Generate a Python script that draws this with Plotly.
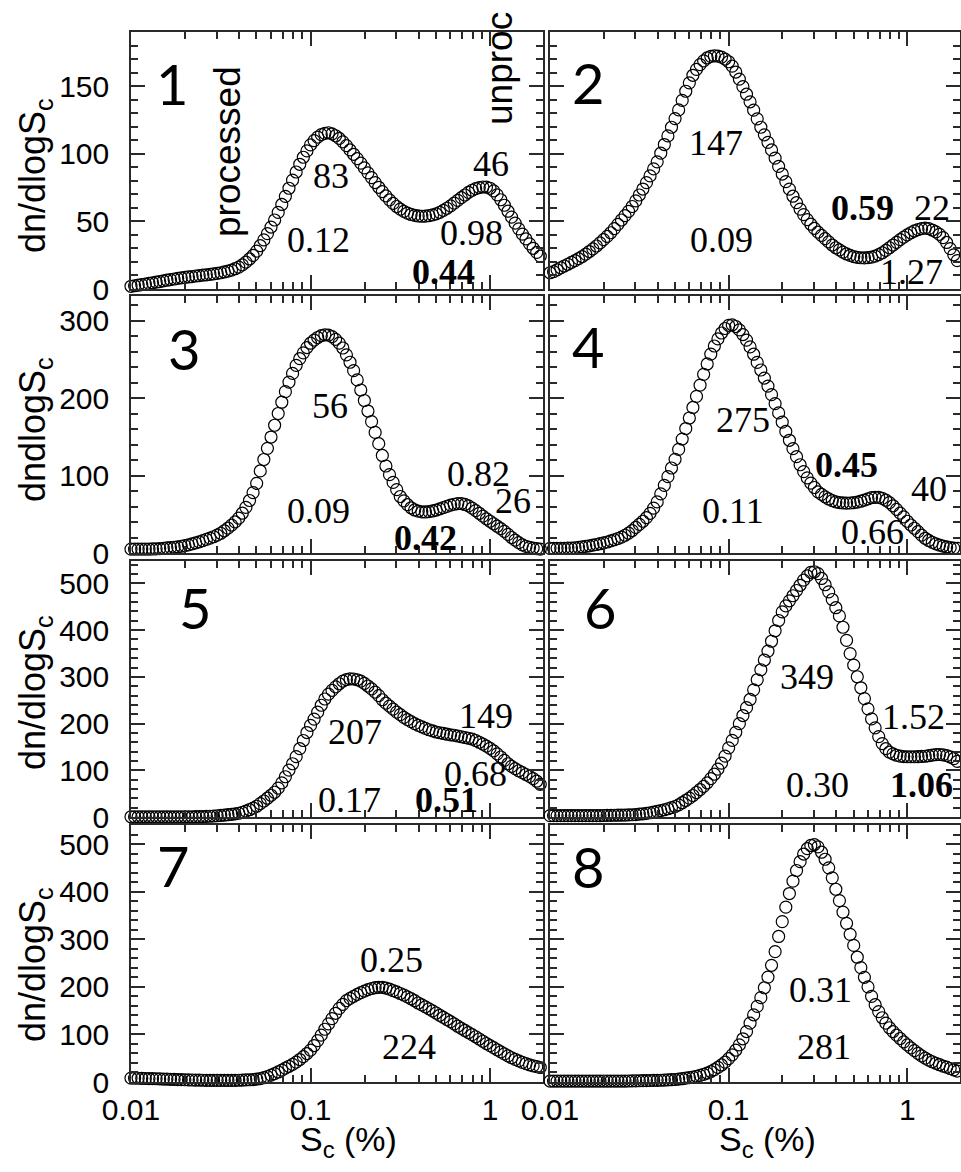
import plotly.graph_objects as go

# ---------------- data ----------------
S_c = [0.01, 0.01047, 0.01096, 0.01148, 0.01202, 0.01259, 0.01318, 0.0138, 0.01445, 0.01514,
       0.01585, 0.0166, 0.01738, 0.0182, 0.01905, 0.01995, 0.02089, 0.02188, 0.02291, 0.02399,
       0.02512, 0.0263, 0.02754, 0.02884, 0.0302, 0.03162, 0.03311, 0.03467, 0.03631, 0.03802,
       0.03981, 0.04169, 0.04365, 0.04571, 0.04786, 0.05012, 0.05248, 0.05495, 0.05754, 0.06026,
       0.0631, 0.06607, 0.06918, 0.07244, 0.07586, 0.07943, 0.08318, 0.0871, 0.0912, 0.0955,
       0.1, 0.1047, 0.1096, 0.1148, 0.1202, 0.1259, 0.1318, 0.138, 0.1445, 0.1514,
       0.1585, 0.166, 0.1738, 0.182, 0.1905, 0.1995, 0.2089, 0.2188, 0.2291, 0.2399,
       0.2512, 0.263, 0.2754, 0.2884, 0.302, 0.3162, 0.3311, 0.3467, 0.3631, 0.3802,
       0.3981, 0.4169, 0.4365, 0.4571, 0.4786, 0.5012, 0.5248, 0.5495, 0.5754, 0.6026,
       0.631, 0.6607, 0.6918, 0.7244, 0.7586, 0.7943, 0.8318, 0.871, 0.912, 0.955,
       1.0, 1.047, 1.096, 1.148, 1.202, 1.259, 1.318, 1.38, 1.445, 1.514,
       1.585, 1.66, 1.738, 1.82, 1.905]

panel1 = [2, 2.4, 2.8, 3.2, 3.6, 4.1, 4.6, 5.1, 5.5, 6.0,
          6.5, 6.9, 7.4, 7.8, 8.2, 8.6, 8.9, 9.2, 9.6, 9.9,
          10.2, 10.5, 10.8, 11.2, 11.5, 12, 12.6, 13.2, 14.0, 15.0,
          16.2, 17.8, 19.9, 22.2, 24.8, 28, 32, 36.3, 40.9, 45.8,
          51, 56.6, 62.5, 68.5, 74.5, 80.5, 86.5, 92.2, 97.4, 102.1,
          106.5, 109.7, 112.3, 114.1, 115.1, 115.5, 114.7, 113.3, 111.3, 108.8,
          106, 102.8, 99.6, 96.4, 93.1, 89.5, 85.9, 82.3, 78.7, 75.2,
          72, 68.8, 65.9, 63.3, 61.0, 59, 57.4, 56.1, 55.1, 54.4,
          54, 53.8, 53.9, 54.2, 54.8, 55.5, 56.7, 58.1, 59.7, 61.5,
          63.5, 65.5, 67.5, 69.5, 71.4, 73, 74.2, 75.0, 75.4, 75.3,
          74.5, 72.5, 69.6, 66, 61.9, 57.5, 53.1, 48.7, 44.5, 40.6,
          37, 33.4, 30.1, 27.1, 24.3]

panel2 = [12, 12.8, 14.2, 15.7, 17.0, 18.3, 19.7, 21.0, 22.4, 24.0,
          25.8, 27.7, 29.7, 31.8, 34.1, 36.5, 38.9, 41.6, 44.6, 47.8,
          51, 54.2, 57.4, 61, 65.1, 69.5, 73.9, 78.6, 83.6, 88.8,
          94, 100.4, 106.8, 113.2, 119.6, 126, 132.4, 139.4, 146.2, 152.4,
          158, 162.4, 165.9, 168.7, 170.8, 172, 172.4, 172.2, 171.4, 170,
          168, 164.8, 160.4, 155.2, 149.6, 144, 138.4, 132.2, 125.8, 119.6,
          114, 108.4, 102.8, 96.8, 90.6, 85, 79.4, 73.8, 68.6, 63.8,
          59, 55, 51.3, 47.9, 44.8, 42, 39.6, 37.2, 34.8, 32.5,
          30.5, 28.9, 27.3, 25.9, 24.8, 24, 23.4, 23.1, 23.0, 23.2,
          23.6, 24.3, 25.4, 26.8, 28.5, 30.5, 32.5, 34.5, 36.5, 38.4,
          40, 41.6, 42.9, 43.9, 44.6, 45, 44.6, 43.6, 42.2, 40.4,
          38, 34.4, 29.9, 25.3, 21]

panel3 = [5, 5, 5, 5, 5, 5, 5.2, 5.4, 5.7, 6.1,
          6.5, 6.9, 7.4, 8.0, 8.7, 9.5, 10.5, 11.7, 13.0, 14.4,
          16, 17.6, 19.2, 21.0, 23.1, 25.5, 28.7, 32.2, 36.0, 40.2,
          45, 51.4, 59, 67.8, 78, 90, 106, 120.8, 135.2, 149.8,
          165, 180.2, 194.8, 208.4, 220.8, 232, 242.4, 251, 258.6, 265.4,
          271, 275, 278.4, 280.8, 281.9, 281.5, 279.5, 276, 271.2, 264.8,
          256, 246.4, 235.6, 223.6, 210.6, 197, 183.4, 169.8, 155.8, 141.2,
          126, 112.4, 101.2, 91.2, 81.8, 73, 67.4, 62.4, 58.4, 55.6,
          54, 53.2, 53, 53.4, 54.3, 55.5, 57.1, 58.7, 60.3, 61.8,
          63, 63.8, 63.8, 62.7, 60.8, 58, 54.8, 51.3, 47.7, 44.2,
          41, 37.8, 34.6, 31.4, 28, 24, 20, 16.6, 13.4, 10.5,
          8.5, 7.3, 6.4, 5.6, 5]

panel4 = [6, 6, 6, 6, 6, 6.2, 6.4, 6.8, 7.3, 7.9,
          8.5, 9.3, 10.1, 11.0, 12.0, 13, 14.2, 15.6, 17.1, 18.7,
          20.5, 22.9, 25.6, 29, 33, 37, 41, 45.6, 51.2, 58,
          66, 76.4, 87.4, 98.6, 109.8, 121, 133.8, 147.2, 160.8, 174.4,
          188, 202.4, 216.8, 230.8, 244.2, 257, 267.4, 276.6, 284.2, 290,
          294, 294.8, 292.6, 288.2, 282.2, 275, 266.2, 256.8, 246.2, 236.4,
          226, 215.6, 204.6, 193, 181, 169, 157, 145.6, 134.8, 124.4,
          114, 105.2, 97, 90.2, 84.6, 79, 75.8, 72.6, 69.8, 67.6,
          66, 65.2, 64.7, 64.5, 64.6, 65, 65.8, 66.9, 68.3, 69.9,
          71.5, 71.9, 71.8, 70.5, 68.2, 65, 61, 56.4, 51.6, 46.6,
          41, 36.2, 32, 27.6, 23, 19, 16.2, 13.7, 11.7, 10.2,
          9, 7.8, 6.9, 6.3, 6]

panel5 = [0.5, 0.5, 0.5, 0.5, 0.5, 0.5, 0.5, 0.5, 0.5, 0.5,
          0.5, 0.5, 0.5, 0.5, 0.5, 0.5, 0.5, 0.5, 0.6, 0.8,
          1, 1.2, 1.6, 2.1, 2.7, 3.3, 4.1, 4.9, 5.8, 6.8,
          8, 10, 12.6, 15.6, 19, 23, 28.6, 34.2, 40.2, 46.6,
          53, 61.8, 73, 86.2, 100.4, 114, 129.2, 146.2, 163.8, 180.8,
          196, 209.6, 224.4, 239.2, 252.6, 263, 271, 278.4, 285.2, 290.8,
          294, 295.6, 295.4, 293.8, 290.8, 286, 280.4, 274.2, 267.4, 259.8,
          251, 243.8, 237.2, 230.8, 224.6, 219, 213.4, 208.4, 204, 200,
          196, 192.8, 189.6, 186.8, 184.4, 182, 180.4, 178.8, 177.2, 175.8,
          175, 173.4, 171.8, 170.2, 168.6, 167, 163.8, 160, 156, 151.8,
          147, 141.4, 135.2, 128.4, 121.2, 114, 108.4, 103.4, 99, 95,
          91, 87, 82.2, 76.6, 70]

panel6 = [3, 3, 3, 3, 3, 3, 3, 3, 3, 3,
          3, 3, 3, 3, 3, 3.2, 3.4, 3.5, 3.7, 3.8,
          4, 4.2, 4.5, 4.8, 5.2, 6, 6.8, 7.9, 9.1, 10.4,
          12, 13.6, 15.5, 17.7, 20.1, 22.5, 26.1, 30.6, 35.4, 40.4,
          46, 52.4, 58.8, 65.6, 73.2, 82, 91.6, 102.4, 115.2, 130.4,
          148, 164, 181.2, 199.8, 217.2, 234, 251.6, 272.2, 293.8, 315.2,
          336, 355.2, 376.2, 398.6, 420.6, 439, 451.8, 462.8, 473.6, 484.8,
          496, 507.2, 516, 523.6, 525, 521, 510.6, 497.2, 482, 465.6,
          448, 430.4, 406.2, 378.2, 349.8, 325, 300.2, 276.6, 253.4, 231.6,
          210, 190.8, 172.2, 157, 146.2, 139, 135, 132.2, 130.4, 129.4,
          129, 129, 129, 129.2, 129.6, 130, 131.2, 132.4, 133.6, 133.8,
          133, 131.4, 128.6, 124.8, 119]

panel7 = [8, 8, 7.9, 7.7, 7.4, 7.2, 7, 6.8, 6.5, 6.2,
          6, 5.7, 5.4, 5.2, 4.9, 4.7, 4.5, 4.2, 4.0, 3.9,
          3.7, 3.5, 3.5, 3.4, 3.3, 3.3, 3.3, 3.4, 3.4, 3.5,
          3.7, 3.9, 4.3, 4.7, 5.2, 6, 7.2, 9, 11.4, 14.3,
          17.5, 21.1, 25, 29, 33, 37, 41.8, 47.2, 53.2, 59.8,
          67, 76.6, 86.8, 98.4, 110.8, 122, 133.2, 144.4, 154.6, 163,
          171, 175.8, 180, 184, 187.8, 191, 194.2, 196.5, 198.1, 199,
          199, 197.4, 195.1, 192.1, 189.2, 186, 182.8, 179, 175, 170.8,
          166, 162, 158, 153.8, 149.4, 145, 140.2, 135.7, 131.3, 126.8,
          122, 117.2, 112.7, 108.3, 103.9, 99.5, 95.1, 90.4, 85.6, 80.9,
          76.5, 72.1, 67.7, 63.3, 59, 55, 51, 47.6, 44.4, 41.3,
          38.5, 36.1, 34, 32.2, 30.5]

panel8 = [2, 2, 2, 2, 2, 2, 2, 2, 2, 2,
          2, 2, 2, 2, 2, 2, 2, 2, 2, 2,
          2, 2, 2.1, 2.3, 2.4, 2.6, 2.8, 2.9, 3.1, 3.3,
          3.5, 3.7, 4.0, 4.4, 4.8, 5.3, 5.9, 6.9, 8.1, 9.3,
          10.5, 12.1, 14, 16.2, 18.8, 22, 26, 30.6, 35.8, 41.8,
          49, 57, 66.8, 78, 90.8, 106, 123.6, 141.2, 158.8, 177.2,
          198, 220.4, 245.2, 274, 305.8, 337, 367.4, 396, 422, 444.4,
          463, 479, 490.2, 497, 498.8, 494, 482.8, 468, 450, 429,
          405, 381, 357, 333.4, 310.2, 287, 262.2, 240.4, 220, 200,
          180, 162.4, 147.8, 135, 123.6, 114, 106, 98.6, 91.4, 84.4,
          78, 71.6, 65.8, 60.2, 54.8, 50, 46, 42.6, 39.4, 36.3,
          33.5, 31.1, 28.4, 25.6, 23]

panels = [panel1, panel2, panel3, panel4, panel5, panel6, panel7, panel8]

y_title_texts = ["dn/dlogS<sub>c</sub>", "dndlogS<sub>c</sub>",
                 "dn/dlogS<sub>c</sub>", "dn/dlogS<sub>c</sub>"]
x_title_text = "S<sub>c</sub> (%)"

# annotation texts: (px, py, text, style)
labels = [
    (172, 84, "1", "panel"), (588, 82, "2", "panel"), (184, 348, "3", "panel"),
    (588, 346, "4", "panel"), (195, 608, "5", "panel"), (600, 608, "6", "panel"),
    (173, 865, "7", "panel"), (588, 866, "8", "panel"),
    (331, 176, "83", "num"), (318, 240, "0.12", "num"), (491, 164, "46", "num"),
    (471, 233, "0.98", "num"), (443, 272, "<b>0.44</b>", "num"),
    (716, 143, "147", "num"), (721, 240, "0.09", "num"), (862, 208, "<b>0.59</b>", "num"),
    (932, 208, "22", "num"), (911, 272, "1.27", "num"),
    (330, 406, "56", "num"), (318, 511, "0.09", "num"), (478, 474, "0.82", "num"),
    (513, 501, "26", "num"), (425, 538, "<b>0.42</b>", "num"),
    (743, 420, "275", "num"), (846, 465, "<b>0.45</b>", "num"), (929, 489, "40", "num"),
    (733, 511, "0.11", "num"), (872, 532, "0.66", "num"),
    (355, 732, "207", "num"), (486, 716, "149", "num"), (475, 774, "0.68", "num"),
    (349, 800, "0.17", "num"), (446, 800, "<b>0.51</b>", "num"),
    (807, 677, "349", "num"), (913, 717, "1.52", "num"), (817, 785, "0.30", "num"),
    (921, 785, "<b>1.06</b>", "num"),
    (391, 960, "0.25", "num"), (409, 1047, "224", "num"),
    (820, 990, "0.31", "num"), (824, 1047, "281", "num"),
    (228, 152, "processed", "rot"), (500, 68, "unproc", "rot"),
    (35, 176, y_title_texts[0], "ytitle"), (35, 430, y_title_texts[1], "ytitle"),
    (35, 693, y_title_texts[2], "ytitle"), (35, 965, y_title_texts[3], "ytitle"),
    (348, 1141, x_title_text, "xtitle"), (767, 1141, x_title_text, "xtitle"),
]

# ---------------- layout geometry ----------------
W, H = 961, 1172
col_px = [(131, 543), (550, 960)]
row_px = [(32, 289), (296, 553), (561, 817), (825, 1082)]
y_top = [190, 332, 548, 540]
y_major = [50, 100, 100, 100]
y_minor = [10, 20, 20, 20]
AX = "#2a2a2a"
SANS = "Liberation Sans"
SERIF = "Liberation Serif"
NUMFONT = "Lato"

styles = {
    "panel": dict(font=dict(family=NUMFONT, size=56, color="black"), textangle=0),
    "num": dict(font=dict(family=SERIF, size=36, color="black"), textangle=0),
    "rot": dict(font=dict(family=SANS, size=37, color="black"), textangle=-90),
    "ytitle": dict(font=dict(family=SANS, size=36, color="black"), textangle=-90),
    "xtitle": dict(font=dict(family=SANS, size=34, color="black"), textangle=0),
}


def ref(i, a):
    return a if i == 1 else f"{a}{i}"


def axkey(i, a):
    return f"{a}axis" if i == 1 else f"{a}axis{i}"


fig = go.Figure()
layout = dict(width=W, height=H, margin=dict(l=0, r=0, t=0, b=0, pad=0),
              paper_bgcolor="white", plot_bgcolor="white", showlegend=False,
              template="none",
              font=dict(family=SANS, color="black"))

for i in range(8):
    n = i + 1
    r, c = divmod(i, 2)
    x0, x1 = col_px[c]
    y0, y1 = row_px[r]
    fig.add_trace(go.Scatter(
        x=S_c, y=panels[i], mode="markers", xaxis=ref(n, "x"), yaxis=ref(n, "y"),
        cliponaxis=False,
        marker=dict(symbol="circle-open", size=12, color="black", line=dict(width=1.2, color="black")),
        hoverinfo="skip"))
    top = y_top[r]
    layout[axkey(n, "x")] = dict(
        type="log", domain=[x0 / W, x1 / W], range=[-2, 0.295], anchor=ref(n, "y"),
        automargin=False,
        showline=True, linecolor=AX, linewidth=1.5, mirror="ticks",
        ticks="inside", ticklen=14, tickwidth=2, tickcolor=AX,
        tickmode="linear", tick0=0, dtick=1,
        showticklabels=(r == 3), ticklabelstandoff=0,
        tickfont=dict(family=SANS, size=30, color="black"),
        minor=dict(ticks="inside", ticklen=7, tickwidth=2, tickcolor=AX,
                   dtick="D1", showgrid=False),
        showgrid=False, zeroline=False, fixedrange=True)
    layout[axkey(n, "y")] = dict(
        domain=[1 - y1 / H, 1 - y0 / H], range=[0, top], anchor=ref(n, "x"),
        automargin=False,
        showline=True, linecolor=AX, linewidth=1.5, mirror="ticks",
        ticks="inside", ticklen=14, tickwidth=2, tickcolor=AX,
        tickmode="linear", tick0=0, dtick=y_major[r],
        showticklabels=(c == 0), ticklabelstandoff=14,
        tickfont=dict(family=SANS, size=30, color="black"),
        minor=dict(ticks="inside", ticklen=7, tickwidth=2, tickcolor=AX,
                   tick0=0, dtick=y_minor[r], showgrid=False),
        showgrid=False, zeroline=False, fixedrange=True)

anns = []
for px, py, text, st in labels:
    s = styles[st]
    anns.append(dict(x=px / W, y=1 - py / H, xref="paper", yref="paper", text=text,
                     showarrow=False, xanchor="center", yanchor="middle",
                     font=s["font"], textangle=s["textangle"]))
layout["annotations"] = anns
fig.update_layout(**layout)
fig.write_html("out.html")
